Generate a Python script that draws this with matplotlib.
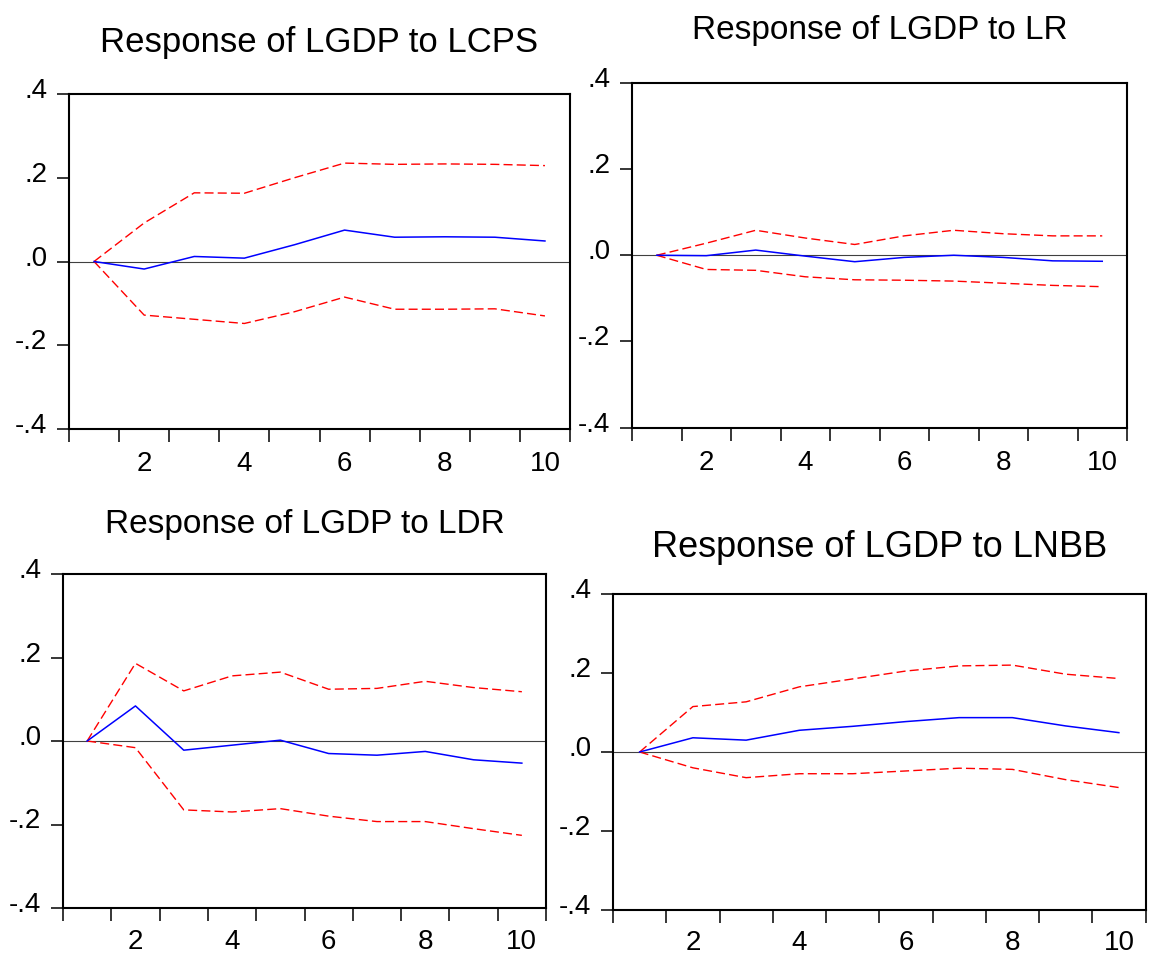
import matplotlib
matplotlib.use("Agg")
import matplotlib.pyplot as plt
import matplotlib.transforms as mtransforms
from matplotlib.ticker import FixedLocator, FixedFormatter

plt.rcParams["font.family"] = ["Liberation Sans", "DejaVu Sans"]

periods = [1, 2, 3, 4, 5, 6, 7, 8, 9, 10]

titles = ["Response of LGDP to LCPS", "Response of LGDP to LR",
          "Response of LGDP to LDR", "Response of LGDP to LNBB"]

# impulse responses (blue) and +/- 2 s.e. bands (red)
resp_lcps = [0.0, -0.018, 0.012, 0.008, 0.040, 0.075, 0.058, 0.059, 0.058, 0.049]
upper_lcps = [0.0, 0.092, 0.164, 0.163, 0.200, 0.235, 0.232, 0.233, 0.232, 0.229]
lower_lcps = [0.0, -0.128, -0.138, -0.148, -0.120, -0.085, -0.114, -0.114, -0.113, -0.130]

resp_lr = [0.0, -0.001, 0.012, -0.002, -0.015, -0.005, 0.000, -0.005, -0.013, -0.014]
upper_lr = [0.0, 0.028, 0.058, 0.040, 0.025, 0.045, 0.058, 0.050, 0.045, 0.045]
lower_lr = [0.0, -0.033, -0.035, -0.050, -0.057, -0.058, -0.060, -0.065, -0.070, -0.073]

resp_ldr = [0.0, 0.084, -0.022, -0.010, 0.002, -0.030, -0.034, -0.025, -0.045, -0.053]
upper_ldr = [0.0, 0.186, 0.120, 0.156, 0.165, 0.124, 0.126, 0.143, 0.128, 0.118]
lower_ldr = [0.0, -0.016, -0.165, -0.170, -0.162, -0.180, -0.193, -0.193, -0.210, -0.226]

resp_lnbb = [0.0, 0.036, 0.030, 0.055, 0.065, 0.077, 0.087, 0.087, 0.066, 0.049]
upper_lnbb = [0.0, 0.115, 0.127, 0.165, 0.185, 0.205, 0.218, 0.220, 0.197, 0.186]
lower_lnbb = [0.0, -0.040, -0.065, -0.055, -0.055, -0.048, -0.041, -0.044, -0.070, -0.090]

responses = [resp_lcps, resp_lr, resp_ldr, resp_lnbb]
uppers = [upper_lcps, upper_lr, upper_ldr, upper_lnbb]
lowers = [lower_lcps, lower_lr, lower_ldr, lower_lnbb]

y_ticks = [-0.4, -0.2, 0.0, 0.2, 0.4]
y_labels = ["-.4", "-.2", ".0", ".2", ".4"]
x_labels = ["2", "4", "6", "8", "10"]

W, H = 1149, 955
# axes boxes in pixels: left, top, right, bottom
boxes = [(69, 94, 570, 429), (632, 83, 1127, 427.5),
         (63, 574, 546, 908), (613, 594, 1145.5, 910)]
title_pads = [30, 32, 29.5, 26.5]
title_sizes = [25, 24, 24, 26]
xlabel_pads = [16, 16, 15, 14.5]

fig = plt.figure(figsize=(W / 100, H / 100), dpi=100)
# EViews draws the y labels a little above their ticks
lift = mtransforms.ScaledTranslation(0, 6 / 100, fig.dpi_scale_trans)

for i in range(4):
    l, t, r, b = boxes[i]
    ax = fig.add_axes([l / W, 1 - b / H, (r - l) / W, (b - t) / H])
    ax.axhline(0, color="#404040", lw=0.8, zorder=1)
    ax.plot(periods, uppers[i], color="red", lw=1.0, dashes=(6.5, 3))
    ax.plot(periods, lowers[i], color="red", lw=1.0, dashes=(6.5, 3))
    ax.plot(periods, responses[i], color="blue", lw=1.1)
    ax.set_xlim(0.5, 10.5)
    ax.set_ylim(-0.4, 0.4)
    ax.xaxis.set_major_locator(FixedLocator([p - 0.5 for p in periods] + [10.5]))
    ax.xaxis.set_major_formatter(FixedFormatter([""] * 11))
    ax.xaxis.set_minor_locator(FixedLocator([2, 4, 6, 8, 10]))
    ax.xaxis.set_minor_formatter(FixedFormatter(x_labels))
    ax.set_yticks(y_ticks, y_labels)
    ax.tick_params(axis="x", which="major", direction="out", length=9.5, width=1.1)
    ax.tick_params(axis="x", which="minor", length=0, pad=xlabel_pads[i], labelsize=20)
    ax.tick_params(axis="y", direction="out", length=8.6, width=1.1, pad=7, labelsize=20)
    for lab in ax.get_yticklabels():
        lab.set_transform(lab.get_transform() + lift)
    for s in ax.spines.values():
        s.set_linewidth(1.5)
    ax.set_title(titles[i], fontsize=title_sizes[i], pad=title_pads[i])

fig.savefig("out.png", dpi=100)
